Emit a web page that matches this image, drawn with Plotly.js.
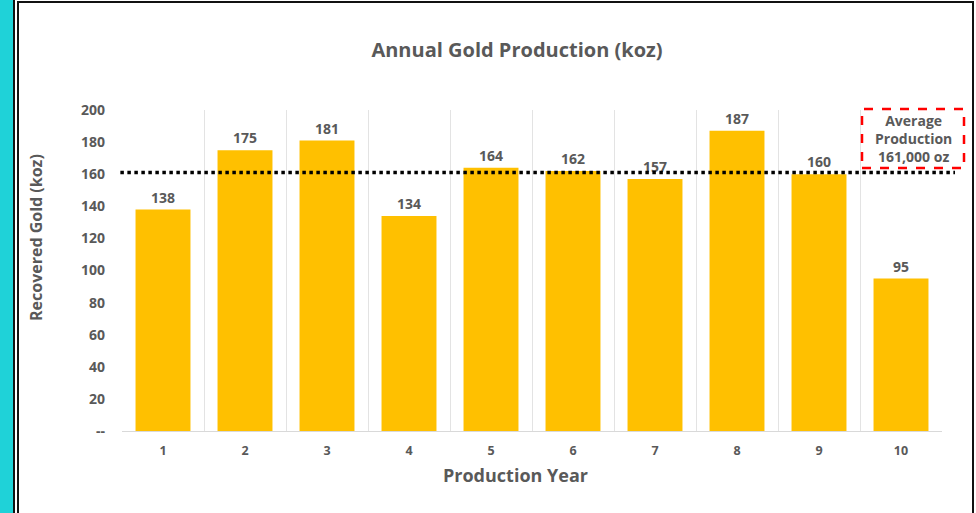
<!DOCTYPE html>
<html>
<head>
<meta charset="utf-8">
<script src="https://cdn.plot.ly/plotly-3.0.1.min.js"></script>
<style>
  html, body { margin: 0; padding: 0; background: #ffffff; }
  #wrap { position: relative; width: 976px; height: 513px; overflow: hidden; }
  #chart { position: absolute; left: 0; top: 0; width: 976px; height: 513px; }
  .strip { position: absolute; left: 0; top: 0; width: 13px; height: 513px; background: #1fd2d8; }
  .vl { position: absolute; background: #111; }
</style>
</head>
<body>
<div id="wrap">
  <div id="chart"></div>
  <div class="strip"></div>
  <div class="vl" style="left:13px; top:0; width:2px; height:513px;"></div>
  <div class="vl" style="left:17px; top:1px; width:2px; height:512px;"></div>
  <div class="vl" style="left:17px; top:1px; width:957px; height:2px;"></div>
  <div class="vl" style="left:972px; top:1px; width:2px; height:512px;"></div>
</div>
<script>
const years = ['1', '2', '3', '4', '5', '6', '7', '8', '9', '10'];
const production = [138, 175, 181, 134, 164, 162, 157, 187, 160, 95];
const averageProduction = 161;
const yTickVals = [0, 20, 40, 60, 80, 100, 120, 140, 160, 180, 200];
const yTickText = ['--', '20', '40', '60', '80', '100', '120', '140', '160', '180', '200'];

const textColor = '#595959';
const fontFam = '"Open Sans", "Noto Sans", sans-serif';

const trace = {
  type: 'bar',
  x: years,
  y: production,
  marker: { color: '#FFC000' },
  width: 0.67,
  text: production.map(String),
  textposition: 'outside',
  cliponaxis: false,
  textfont: { family: fontFam, size: 14, color: textColor, weight: 700 },
  hoverinfo: 'x+y'
};

const layout = {
  width: 976,
  height: 513,
  margin: { l: 122, r: 34, t: 110, b: 82 },
  paper_bgcolor: '#ffffff',
  plot_bgcolor: '#ffffff',
  showlegend: false,
  font: { family: fontFam, color: textColor },
  title: {
    text: 'Annual Gold Production (koz)',
    font: { family: fontFam, size: 20, color: textColor, weight: 700 },
    xref: 'container', x: 517 / 976, xanchor: 'center',
    yref: 'container', y: 1 - 50 / 513, yanchor: 'middle'
  },
  xaxis: {
    type: 'category',
    tickson: 'boundaries',
    showgrid: true,
    gridcolor: '#e3e3e3',
    gridwidth: 1,
    showline: true,
    linecolor: '#d9d9d9',
    ticks: '',
    tickfont: { family: fontFam, size: 12.5, color: textColor, weight: 700 },
    ticklabelstandoff: 8,
    zeroline: false
  },
  yaxis: {
    range: [0, 200],
    tickvals: yTickVals,
    ticktext: yTickText,
    showgrid: false,
    zeroline: false,
    showline: false,
    ticks: '',
    ticklabelstandoff: 16,
    tickfont: { family: fontFam, size: 14, color: textColor, weight: 700 }
  },
  shapes: [
    {
      type: 'line', xref: 'paper', yref: 'y',
      x0: -0.002, x1: (955 - 122) / 820, y0: averageProduction, y1: averageProduction,
      line: { color: '#000000', width: 3.5, dash: 'dot' }
    },
    {
      type: 'rect', xref: 'paper', yref: 'paper',
      x0: (862 - 122) / 820, x1: (964 - 122) / 820,
      y0: (431 - 168) / 321, y1: (431 - 109) / 321,
      line: { color: '#ff0000', width: 2.5, dash: 'dash' },
      fillcolor: 'rgba(0,0,0,0)'
    }
  ],
  annotations: [
    {
      text: 'Average<br>Production<br>161,000 oz',
      xref: 'paper', yref: 'paper',
      x: (913 - 122) / 820, y: (431 - 138.5) / 321,
      xanchor: 'center', yanchor: 'middle',
      showarrow: false,
      font: { family: fontFam, size: 14, color: textColor, weight: 700 },
      align: 'center'
    },
    {
      text: 'Production Year',
      xref: 'paper', yref: 'paper',
      x: (515 - 122) / 820, y: (431 - 475) / 321,
      xanchor: 'center', yanchor: 'middle',
      showarrow: false,
      font: { family: fontFam, size: 18, color: textColor, weight: 700 }
    },
    {
      text: 'Recovered Gold (koz)',
      xref: 'paper', yref: 'paper',
      x: (36 - 122) / 820, y: (431 - 238) / 321,
      xanchor: 'center', yanchor: 'middle',
      textangle: -90,
      showarrow: false,
      font: { family: fontFam, size: 16, color: textColor, weight: 700 }
    }
  ]
};

Plotly.newPlot('chart', [trace], layout, { displayModeBar: false, staticPlot: true });
</script>
</body>
</html>
